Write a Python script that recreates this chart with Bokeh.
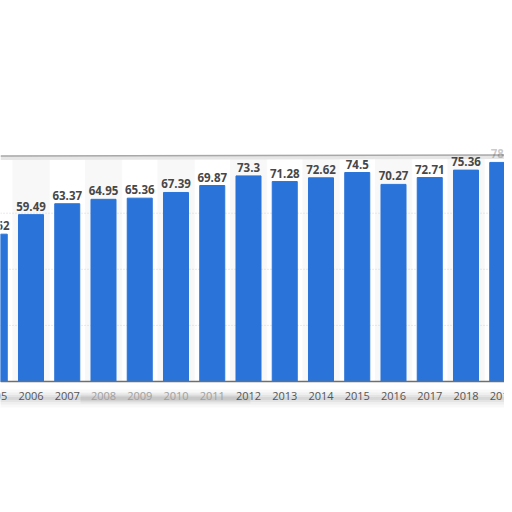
from bokeh.plotting import figure
from bokeh.models import ColumnDataSource, Span
from bokeh.core.properties import value
from bokeh.embed import file_html
from bokeh.resources import INLINE

years = [2005, 2006, 2007, 2008, 2009, 2010, 2011, 2012, 2013, 2014, 2015, 2016, 2017, 2018, 2019]
values = [52.52, 59.49, 63.37, 64.95, 65.36, 67.39, 69.87, 73.3, 71.28, 72.62, 74.5, 70.27, 72.71, 75.36, 78.1]
value_labels = ["52.52", "59.49", "63.37", "64.95", "65.36", "67.39", "69.87", "73.3",
                "71.28", "72.62", "74.5", "70.27", "72.71", "75.36", "78.1"]
year_labels = [str(y) for y in years]
grid_values = [20, 40, 60]

W, H = 504, 504
px_per_unit = 2.805
base_screen = 381.0
x0_screen, step = 30.5, 36.25

def sx(screen_x):
    return 2006 + (screen_x - x0_screen) / step

def sy(screen_y):
    return (base_screen - screen_y) / px_per_unit

x_start, x_end = sx(0), sx(W)
y_top, y_bot = sy(0), sy(H)
frame_top = sy(155)

p = figure(width=W, height=H, output_backend="svg", toolbar_location=None,
           x_range=(x_start, x_end), y_range=(y_bot, y_top),
           min_border=0, min_border_left=0, min_border_right=0,
           min_border_top=0, min_border_bottom=0)
p.axis.visible = False
p.grid.visible = False
p.outline_line_color = None
p.background_fill_color = "white"
p.border_fill_color = "white"

# faint alternating column bands
even = [y for y in years if y % 2 == 0]
p.vbar(x=even, top=frame_top, bottom=0, width=1.0, color="#f8f8f8")

# dotted gridlines behind bars
p.segment(x0=[x_start] * len(grid_values), x1=[x_end] * len(grid_values),
          y0=grid_values, y1=grid_values, line_color="#d4d4d4",
          line_width=1, line_dash="1 2")

faded = {2008, 2009, 2010, 2011}
src = ColumnDataSource(dict(
    x=years, top=values, lab=value_labels, yl=year_labels,
    alpha=[1.0] * (len(years) - 1) + [0.3],
    ycol=["#a0a0a0" if y in faded else "#555555" for y in years]))
p.vbar(x="x", top="top", bottom=0, width=0.69, source=src, color="#2a74d9")

p.add_layout(Span(location=0, dimension="width", line_color="#6f6f6f", line_width=1.5))

# torn frame top edge with soft shadow
p.line(x=[x_start, x_end], y=[sy(157.5), sy(156.5)], line_color="#e6e6e6", line_width=4)
p.line(x=[x_start, x_end], y=[sy(155.5), sy(154.5)], line_color="#a8a8a8", line_width=1.5)

# bottom torn edge shadow (soft, stacked)
for half, a in [(9, 0.05), (6, 0.07), (3.5, 0.09), (1.5, 0.10)]:
    p.quad(left=sx(-5), right=sx(W + 5), top=sy(398 - half), bottom=sy(398 + half),
           color="#7a7a7a", alpha=a, line_color=None)
for half, a in [(5, 0.06), (2.5, 0.08)]:
    p.quad(left=sx(80), right=sx(250), top=sy(398 - half), bottom=sy(398 + half),
           color="#6a6a6a", alpha=a, line_color=None)

p.text(x="x", y="top", text="lab", source=src, text_align="center", text_baseline="bottom",
       y_offset=-4, text_font=value("Open Sans"), text_font_style="bold",
       text_font_size="11.5px", text_color="#474747", text_alpha="alpha")
p.text(x="x", y=0, text="yl", source=src, text_align="center", text_baseline="middle",
       y_offset=14, text_font=value("Open Sans"), text_font_size="11px", text_color="ycol")

open("out.html", "w").write(file_html(p, INLINE))
